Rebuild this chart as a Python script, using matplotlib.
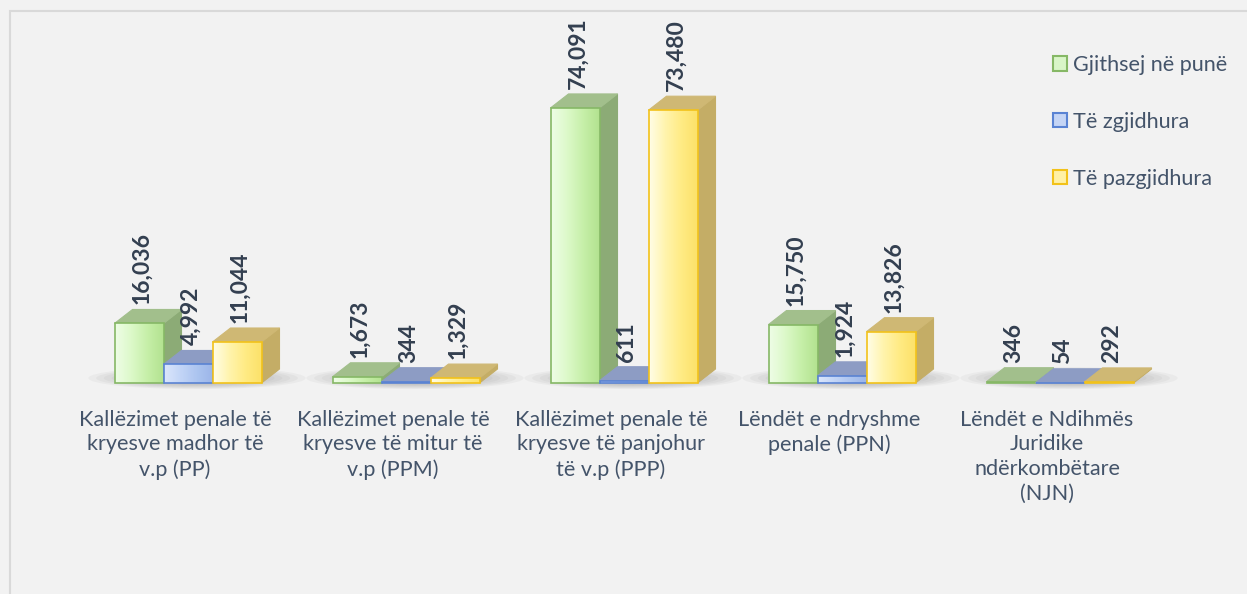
import numpy as np
import matplotlib
matplotlib.use("Agg")
import matplotlib.pyplot as plt
from matplotlib.patches import Polygon, Rectangle, Patch, Ellipse
from matplotlib.colors import LinearSegmentedColormap

categories = [
    "Kallëzimet penale të\nkryesve madhor të\nv.p (PP)",
    "Kallëzimet penale të\nkryesve të mitur të\nv.p (PPM)",
    "Kallëzimet penale të\nkryesve të panjohur\ntë v.p (PPP)",
    "Lëndët e ndryshme\npenale (PPN)",
    "Lëndët e Ndihmës\nJuridike\nndërkombëtare\n(NJN)",
]
series_names = ["Gjithsej në punë", "Të zgjidhura", "Të pazgjidhura"]
total = [16036, 1673, 74091, 15750, 346]
solved = [4992, 344, 611, 1924, 54]
unsolved = [11044, 1329, 73480, 13826, 292]
series = [total, solved, unsolved]

# styles: (front gradient colours, edge, side, top, legend face)
styles = [
    (["#eefde6", "#dcf9c9", "#c6efa8", "#b3e290"], "#86b866", "#8cab76", "#a2bf8c", "#d9f5c8"),
    (["#dbe6fb", "#c3d5f7", "#adc5f0", "#9cb6e9"], "#5a83d3", "#7788b5", "#8d9cc4", "#c5d5f5"),
    (["#fffde6", "#fff4ad", "#ffeb84", "#fce169"], "#f2c21a", "#c4ad66", "#cfb874", "#fff1a6"),
]

W, H = 1247, 594
plt.rcParams['font.family'] = ['Lato', 'DejaVu Sans']
fig = plt.figure(figsize=(W / 100, H / 100), dpi=100)
fig.patch.set_facecolor('#f2f2f2')
fig.add_artist(Rectangle((10 / W, -0.02), 1.0, (H - 11) / H + 0.02, transform=fig.transFigure,
                         fill=False, edgecolor='#d9d9d9', lw=1.5))

ax_left, ax_w = 79, 1090
base_px, top_px = 383, 86
ax = fig.add_axes([ax_left / W, (H - base_px) / H, ax_w / W, (base_px - top_px) / H])
ax.set_xlim(-0.5, 4.5)
ax.set_ylim(0, 80000)
ax.axis('off')

sx = ax_w / 5.0
sy = (base_px - top_px) / 80000.0
dx = 18 / sx
dy = 14 / sy
bw = 49 / sx

text_col = '#44546a'
lab_col = '#333f50'

# floor shadows
for i in range(len(categories)):
    cx = i + 9 / sx
    for k in range(14):
        f = 1 - k / 14
        ax.add_patch(Ellipse((cx, 0.35 * dy), (3 * bw + 70 / sx) * f + 1e-3, (22 / sy) * f,
                             facecolor='#6f6f6f', edgecolor='none', alpha=0.06, zorder=0.5,
                             clip_on=False))

for i in range(len(categories)):
    for j, vals in enumerate(series):
        grad, edge, side, top, _ = styles[j]
        h = vals[i]
        x0 = i + (j - 1.5) * bw
        x1 = x0 + bw
        z = 2 + i * 3 + j
        # side face
        ax.add_patch(Polygon([(x1, 0), (x1 + dx, dy), (x1 + dx, h + dy), (x1, h)], closed=True,
                             facecolor=side, edgecolor=side, lw=0.8, zorder=z, clip_on=False))
        # top face
        ax.add_patch(Polygon([(x0, h), (x0 + dx, h + dy), (x1 + dx, h + dy), (x1, h)], closed=True,
                             facecolor=top, edgecolor=top, lw=0.8, zorder=z, clip_on=False))
        # front face
        bar = ax.bar(x0, h, width=bw, align='edge', facecolor='none', edgecolor=edge, lw=1.2,
                     zorder=z + 0.2, clip_on=False)[0]
        cmap = LinearSegmentedColormap.from_list('g%d' % j, grad)
        img = ax.imshow(np.linspace(0, 1, 64).reshape(1, -1), cmap=cmap, aspect='auto',
                        extent=[x0, x1, 0, h], zorder=z + 0.1, interpolation='bilinear')
        img.set_clip_path(bar)
        # value label
        ax.annotate(f"{h:,}", xy=(x0 + bw / 2, h + dy), xytext=(3, 5), textcoords='offset pixels',
                    rotation=90, ha='center', va='bottom', fontsize=16.5, fontweight='bold',
                    color=lab_col, zorder=50, annotation_clip=False)

ax.set_xlim(-0.5, 4.5)
ax.set_ylim(0, 80000)

for i, c in enumerate(categories):
    ax.annotate(c, xy=(i, 0), xytext=(-13, -27), textcoords='offset pixels', ha='center', va='top',
                multialignment='center', fontsize=15.6, color=text_col, linespacing=1.28,
                annotation_clip=False)

handles = [Patch(facecolor=s[4], edgecolor=s[1], lw=1.5) for s in styles]
fig.legend(handles, series_names, loc='upper left', bbox_to_anchor=(1053 / W, 1 - 55 / H),
           frameon=False, handlelength=0.65, handleheight=0.65, handletextpad=0.28,
           labelspacing=1.7, fontsize=15.6, labelcolor=text_col, borderaxespad=0, borderpad=0)

fig.savefig('out.png', dpi=100, facecolor=fig.get_facecolor())
